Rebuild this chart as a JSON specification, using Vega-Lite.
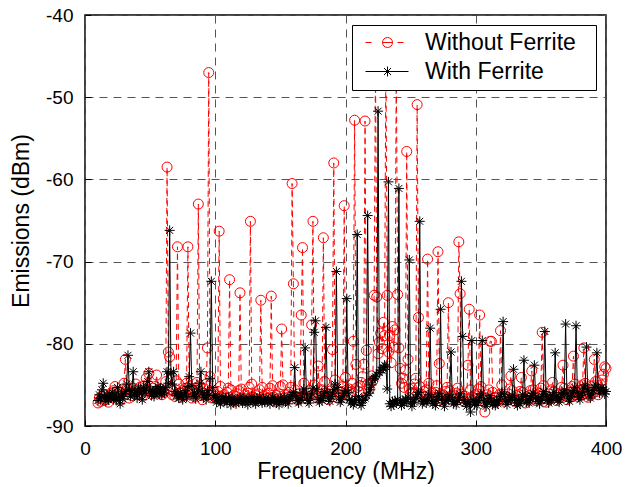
{
"$schema": "https://vega.github.io/schema/vega-lite/v6.json",
"width": 521, "height": 411,
"autosize": "none",
"padding": {"left": 85, "top": 15, "right": 20, "bottom": 61},
"background": "white",
"config": {
  "font": "Liberation Sans",
  "view": {"stroke": "black", "strokeWidth": 1.5},
  "axis": {"grid": true, "gridColor": "#555555", "gridDash": [8, 6], "gridWidth": 1, "gridOpacity": 1,
    "domain": false, "ticks": true, "tickColor": "black", "tickSize": -6, "tickWidth": 1,
    "labelFont": "Liberation Sans", "labelFontSize": 19, "labelColor": "black",
    "titleFont": "Liberation Sans", "titleFontSize": 23, "titleFontWeight": "normal", "titleColor": "black"}
},
"data": {"values": [
{"f":10,"a":-87.2,"b":-86.9},{"f":11,"a":-86.6,"b":-86.2},{"f":12,"a":-87.0,"b":-86.7},{"f":13,"a":-86.4,"b":-85.6},{"f":14,"a":-86.9,"b":-84.8},{"f":15,"a":-86.2,"b":-86.4},{"f":16,"a":-86.8,"b":-87.0},{"f":17,"a":-86.5,"b":-86.3},{"f":18,"a":-87.1,"b":-86.8},{"f":19,"a":-86.3,"b":-86.1},
{"f":20,"a":-86.0,"b":-86.6},{"f":21,"a":-86.5,"b":-85.9},{"f":22,"a":-85.7,"b":-86.8},{"f":23,"a":-85.2,"b":-86.2},{"f":24,"a":-86.2,"b":-86.9},{"f":25,"a":-85.8,"b":-85.3},{"f":26,"a":-86.4,"b":-86.5},{"f":27,"a":-86.9,"b":-87.3},{"f":28,"a":-86.1,"b":-86.0},{"f":29,"a":-85.6,"b":-86.7},
{"f":30,"a":-84.8,"b":-86.1},{"f":31,"a":-81.9,"b":-85.8},{"f":32,"a":-85.5,"b":-84.9},{"f":33,"a":-86.2,"b":-81.4},{"f":34,"a":-86.6,"b":-85.6},{"f":35,"a":-85.9,"b":-86.4},{"f":36,"a":-86.3,"b":-85.7},{"f":37,"a":-85.4,"b":-83.4},{"f":38,"a":-86.0,"b":-86.2},{"f":39,"a":-84.9,"b":-85.9},
{"f":40,"a":-85.6,"b":-86.6},{"f":41,"a":-86.2,"b":-85.4},{"f":42,"a":-85.3,"b":-86.1},{"f":43,"a":-85.9,"b":-85.6},{"f":44,"a":-86.4,"b":-86.8},{"f":45,"a":-85.1,"b":-85.3},{"f":46,"a":-85.7,"b":-86.0},{"f":47,"a":-84.2,"b":-85.5},{"f":48,"a":-85.6,"b":-84.6},{"f":49,"a":-83.6,"b":-83.4},
{"f":50,"a":-85.8,"b":-85.7},{"f":51,"a":-86.1,"b":-86.3},{"f":52,"a":-85.4,"b":-85.8},{"f":53,"a":-85.9,"b":-86.4},{"f":54,"a":-85.2,"b":-85.5},{"f":55,"a":-83.8,"b":-85.9},{"f":56,"a":-85.6,"b":-85.2},{"f":57,"a":-86.0,"b":-86.1},{"f":58,"a":-85.5,"b":-85.4},{"f":59,"a":-86.2,"b":-86.2},
{"f":60,"a":-85.8,"b":-85.6},{"f":61,"a":-85.9,"b":-86.0},{"f":62,"a":-84.6,"b":-85.3},{"f":63,"a":-58.5,"b":-83.4},{"f":64,"a":-81.0,"b":-84.8},{"f":65,"a":-81.6,"b":-66.2},{"f":66,"a":-85.6,"b":-83.6},{"f":67,"a":-86.2,"b":-84.9},{"f":68,"a":-85.8,"b":-83.4},{"f":69,"a":-86.4,"b":-85.8},
{"f":70,"a":-84.5,"b":-86.3},{"f":71,"a":-68.2,"b":-86.1},{"f":72,"a":-84.9,"b":-86.6},{"f":73,"a":-86.0,"b":-85.9},{"f":74,"a":-86.5,"b":-86.4},{"f":75,"a":-85.7,"b":-86.8},{"f":76,"a":-86.3,"b":-86.2},{"f":77,"a":-85.4,"b":-85.7},{"f":78,"a":-84.8,"b":-86.5},{"f":79,"a":-68.2,"b":-85.2},
{"f":80,"a":-85.2,"b":-84.0},{"f":81,"a":-86.1,"b":-78.7},{"f":82,"a":-86.6,"b":-85.1},{"f":83,"a":-85.8,"b":-86.4},{"f":84,"a":-86.4,"b":-86.0},{"f":85,"a":-86.0,"b":-86.7},{"f":86,"a":-84.7,"b":-86.1},{"f":87,"a":-63.0,"b":-85.5},{"f":88,"a":-85.1,"b":-84.8},{"f":89,"a":-86.3,"b":-83.4},
{"f":90,"a":-86.8,"b":-85.9},{"f":91,"a":-86.0,"b":-86.5},{"f":92,"a":-85.5,"b":-86.2},{"f":93,"a":-84.9,"b":-86.8},{"f":94,"a":-80.5,"b":-85.7},{"f":95,"a":-47.0,"b":-86.3},{"f":96,"a":-84.0,"b":-84.2},{"f":97,"a":-86.2,"b":-72.4},{"f":98,"a":-86.6,"b":-85.3},{"f":99,"a":-85.9,"b":-86.6},
{"f":100,"a":-86.4,"b":-86.2},{"f":101,"a":-86.7,"b":-87.1},{"f":102,"a":-85.8,"b":-86.6},{"f":103,"a":-66.3,"b":-86.9},{"f":104,"a":-85.2,"b":-87.3},{"f":105,"a":-86.5,"b":-86.8},{"f":106,"a":-86.9,"b":-86.4},{"f":107,"a":-86.2,"b":-87.0},{"f":108,"a":-86.6,"b":-86.7},{"f":109,"a":-85.9,"b":-87.2},
{"f":110,"a":-85.4,"b":-86.5},{"f":111,"a":-72.2,"b":-86.9},{"f":112,"a":-85.6,"b":-87.4},{"f":113,"a":-86.8,"b":-86.6},{"f":114,"a":-86.3,"b":-87.0},{"f":115,"a":-87.0,"b":-86.8},{"f":116,"a":-86.4,"b":-87.3},{"f":117,"a":-86.1,"b":-86.7},{"f":118,"a":-85.7,"b":-87.1},{"f":119,"a":-73.8,"b":-86.5},
{"f":120,"a":-85.5,"b":-86.9},{"f":121,"a":-86.6,"b":-87.2},{"f":122,"a":-86.9,"b":-86.6},{"f":123,"a":-86.2,"b":-87.0},{"f":124,"a":-86.7,"b":-86.8},{"f":125,"a":-86.0,"b":-87.4},{"f":126,"a":-85.3,"b":-86.7},{"f":127,"a":-65.1,"b":-86.9},{"f":128,"a":-84.9,"b":-86.4},{"f":129,"a":-86.5,"b":-87.1},
{"f":130,"a":-86.9,"b":-86.8},{"f":131,"a":-86.3,"b":-87.3},{"f":132,"a":-86.7,"b":-86.6},{"f":133,"a":-86.1,"b":-87.0},{"f":134,"a":-85.6,"b":-86.5},{"f":135,"a":-74.7,"b":-86.9},{"f":136,"a":-85.3,"b":-87.2},{"f":137,"a":-86.4,"b":-86.7},{"f":138,"a":-86.8,"b":-87.1},{"f":139,"a":-86.2,"b":-86.6},
{"f":140,"a":-86.6,"b":-87.0},{"f":141,"a":-86.0,"b":-86.8},{"f":142,"a":-85.4,"b":-87.3},{"f":143,"a":-74.2,"b":-86.9},{"f":144,"a":-85.1,"b":-86.5},{"f":145,"a":-86.5,"b":-87.0},{"f":146,"a":-87.0,"b":-86.7},{"f":147,"a":-86.3,"b":-87.2},{"f":148,"a":-86.7,"b":-86.8},{"f":149,"a":-86.1,"b":-87.4},
{"f":150,"a":-85.2,"b":-86.6},{"f":151,"a":-78.2,"b":-86.9},{"f":152,"a":-85.0,"b":-87.1},{"f":153,"a":-86.6,"b":-86.5},{"f":154,"a":-86.9,"b":-87.0},{"f":155,"a":-86.2,"b":-86.8},{"f":156,"a":-86.5,"b":-87.3},{"f":157,"a":-85.9,"b":-86.7},{"f":158,"a":-85.3,"b":-86.4},{"f":159,"a":-60.5,"b":-86.2},
{"f":160,"a":-72.7,"b":-85.9},{"f":161,"a":-85.6,"b":-82.9},{"f":162,"a":-86.4,"b":-86.3},{"f":163,"a":-86.8,"b":-86.9},{"f":164,"a":-86.1,"b":-87.2},{"f":165,"a":-86.5,"b":-86.6},{"f":166,"a":-76.5,"b":-86.8},{"f":167,"a":-68.3,"b":-86.0},{"f":168,"a":-84.8,"b":-85.5},{"f":169,"a":-86.3,"b":-80.5},
{"f":170,"a":-86.7,"b":-86.1},{"f":171,"a":-86.0,"b":-86.9},{"f":172,"a":-86.4,"b":-87.2},{"f":173,"a":-85.7,"b":-86.6},{"f":174,"a":-77.7,"b":-86.1},{"f":175,"a":-65.1,"b":-85.4},{"f":176,"a":-85.0,"b":-78.6},{"f":177,"a":-86.2,"b":-77.2},{"f":178,"a":-86.6,"b":-85.6},{"f":179,"a":-82.7,"b":-86.8},
{"f":180,"a":-86.1,"b":-87.1},{"f":181,"a":-86.5,"b":-86.5},{"f":182,"a":-85.6,"b":-86.9},{"f":183,"a":-67.1,"b":-86.3},{"f":184,"a":-84.6,"b":-85.8},{"f":185,"a":-86.0,"b":-78.0},{"f":186,"a":-86.4,"b":-85.9},{"f":187,"a":-86.8,"b":-86.7},{"f":188,"a":-86.1,"b":-87.0},{"f":189,"a":-85.7,"b":-86.4},
{"f":190,"a":-80.7,"b":-86.0},{"f":191,"a":-58.0,"b":-85.6},{"f":192,"a":-84.4,"b":-84.9},{"f":193,"a":-86.2,"b":-71.2},{"f":194,"a":-86.6,"b":-85.3},{"f":195,"a":-85.9,"b":-86.6},{"f":196,"a":-86.3,"b":-87.1},{"f":197,"a":-85.8,"b":-86.8},{"f":198,"a":-85.2,"b":-86.3},{"f":199,"a":-63.2,"b":-86.0},
{"f":200,"a":-84.1,"b":-85.7},{"f":201,"a":-85.6,"b":-74.5},{"f":202,"a":-86.2,"b":-85.9},{"f":203,"a":-85.5,"b":-86.8},{"f":204,"a":-85.9,"b":-87.2},{"f":205,"a":-84.8,"b":-86.9},{"f":206,"a":-79.7,"b":-87.4},{"f":207,"a":-52.8,"b":-87.1},{"f":208,"a":-82.5,"b":-86.7},{"f":209,"a":-85.3,"b":-66.7},
{"f":210,"a":-85.8,"b":-86.4},{"f":211,"a":-85.1,"b":-87.2},{"f":212,"a":-84.7,"b":-87.5},{"f":213,"a":-84.0,"b":-86.9},{"f":214,"a":-82.5,"b":-86.8},{"f":215,"a":-52.9,"b":-86.6},{"f":216,"a":-80.8,"b":-86.3},{"f":217,"a":-84.9,"b":-64.4},{"f":218,"a":-85.6,"b":-86.0},{"f":219,"a":-84.8,"b":-85.6},
{"f":220,"a":-83.9,"b":-85.0},{"f":221,"a":-84.5,"b":-84.4},{"f":222,"a":-74.1,"b":-84.2},{"f":223,"a":-46.0,"b":-84.0},{"f":224,"a":-74.3,"b":-83.8},{"f":225,"a":-81.2,"b":-51.7},{"f":226,"a":-79.8,"b":-83.5},{"f":227,"a":-78.7,"b":-83.2},{"f":228,"a":-80.6,"b":-83.2},{"f":229,"a":-77.4,"b":-82.9},
{"f":230,"a":-79.0,"b":-82.6},{"f":231,"a":-44.5,"b":-82.8},{"f":232,"a":-74.1,"b":-85.5},{"f":233,"a":-81.0,"b":-60.3},{"f":234,"a":-79.0,"b":-87.3},{"f":235,"a":-82.3,"b":-87.6},{"f":236,"a":-77.9,"b":-87.0},{"f":237,"a":-80.4,"b":-87.4},{"f":238,"a":-78.3,"b":-86.9},{"f":239,"a":-45.5,"b":-87.2},
{"f":240,"a":-74.0,"b":-86.8},{"f":241,"a":-80.5,"b":-61.1},{"f":242,"a":-83.0,"b":-87.1},{"f":243,"a":-84.8,"b":-87.5},{"f":244,"a":-84.2,"b":-86.9},{"f":245,"a":-85.3,"b":-87.3},{"f":246,"a":-83.2,"b":-86.7},{"f":247,"a":-56.6,"b":-87.0},{"f":248,"a":-81.9,"b":-86.5},{"f":249,"a":-85.5,"b":-69.8},
{"f":250,"a":-86.0,"b":-87.2},{"f":251,"a":-85.4,"b":-87.6},{"f":252,"a":-85.9,"b":-86.8},{"f":253,"a":-84.9,"b":-87.1},{"f":254,"a":-84.2,"b":-86.6},{"f":255,"a":-50.9,"b":-86.2},{"f":256,"a":-76.8,"b":-85.9},{"f":257,"a":-85.2,"b":-65.1},{"f":258,"a":-86.1,"b":-86.7},{"f":259,"a":-86.5,"b":-87.3},
{"f":260,"a":-85.8,"b":-87.0},{"f":261,"a":-86.4,"b":-86.8},{"f":262,"a":-85.6,"b":-87.2},{"f":263,"a":-69.7,"b":-86.9},{"f":264,"a":-84.8,"b":-86.2},{"f":265,"a":-86.2,"b":-78.1},{"f":266,"a":-86.7,"b":-86.5},{"f":267,"a":-86.0,"b":-87.3},{"f":268,"a":-86.5,"b":-87.0},{"f":269,"a":-85.9,"b":-87.5},
{"f":270,"a":-85.1,"b":-86.8},{"f":271,"a":-68.8,"b":-86.4},{"f":272,"a":-82.4,"b":-86.0},{"f":273,"a":-86.3,"b":-75.8},{"f":274,"a":-86.8,"b":-86.6},{"f":275,"a":-86.2,"b":-87.2},{"f":276,"a":-86.6,"b":-87.6},{"f":277,"a":-85.8,"b":-86.9},{"f":278,"a":-85.3,"b":-86.5},{"f":279,"a":-75.0,"b":-86.8},
{"f":280,"a":-85.7,"b":-86.2},{"f":281,"a":-86.4,"b":-81.0},{"f":282,"a":-86.9,"b":-86.7},{"f":283,"a":-86.3,"b":-87.3},{"f":284,"a":-86.7,"b":-87.0},{"f":285,"a":-86.0,"b":-87.4},{"f":286,"a":-85.4,"b":-86.9},{"f":287,"a":-67.6,"b":-86.5},{"f":288,"a":-73.9,"b":-86.1},{"f":289,"a":-86.1,"b":-72.4},
{"f":290,"a":-86.6,"b":-79.1},{"f":291,"a":-87.0,"b":-86.8},{"f":292,"a":-86.4,"b":-87.2},{"f":293,"a":-86.8,"b":-87.6},{"f":294,"a":-82.6,"b":-87.0},{"f":295,"a":-75.8,"b":-87.3},{"f":296,"a":-85.6,"b":-88.3},{"f":297,"a":-86.5,"b":-79.6},{"f":298,"a":-86.9,"b":-86.8},{"f":299,"a":-86.3,"b":-87.4},
{"f":300,"a":-86.7,"b":-87.1},{"f":301,"a":-86.1,"b":-87.5},{"f":302,"a":-85.5,"b":-86.9},{"f":303,"a":-76.5,"b":-86.5},{"f":304,"a":-85.2,"b":-86.1},{"f":305,"a":-86.4,"b":-79.6},{"f":306,"a":-86.9,"b":-86.6},{"f":307,"a":-88.3,"b":-87.2},{"f":308,"a":-86.7,"b":-87.6},{"f":309,"a":-86.2,"b":-87.0},
{"f":310,"a":-85.6,"b":-86.7},{"f":311,"a":-79.7,"b":-86.3},{"f":312,"a":-79.7,"b":-87.0},{"f":313,"a":-85.9,"b":-87.4},{"f":314,"a":-86.6,"b":-87.1},{"f":315,"a":-87.1,"b":-87.5},{"f":316,"a":-86.5,"b":-86.9},{"f":317,"a":-86.9,"b":-87.3},{"f":318,"a":-86.2,"b":-86.8},{"f":319,"a":-78.4,"b":-86.4},
{"f":320,"a":-85.0,"b":-86.0},{"f":321,"a":-86.5,"b":-77.3},{"f":322,"a":-87.0,"b":-86.2},{"f":323,"a":-86.4,"b":-87.0},{"f":324,"a":-86.8,"b":-87.4},{"f":325,"a":-86.1,"b":-86.9},{"f":326,"a":-85.5,"b":-86.5},{"f":327,"a":-83.9,"b":-86.8},{"f":328,"a":-85.7,"b":-86.3},{"f":329,"a":-86.6,"b":-83.1},
{"f":330,"a":-87.0,"b":-86.7},{"f":331,"a":-86.3,"b":-87.2},{"f":332,"a":-86.8,"b":-87.5},{"f":333,"a":-86.2,"b":-86.9},{"f":334,"a":-85.8,"b":-87.3},{"f":335,"a":-84.1,"b":-86.8},{"f":336,"a":-85.9,"b":-86.2},{"f":337,"a":-86.7,"b":-82.0},{"f":338,"a":-87.2,"b":-86.4},{"f":339,"a":-86.5,"b":-87.1},
{"f":340,"a":-86.9,"b":-86.8},{"f":341,"a":-86.3,"b":-87.2},{"f":342,"a":-85.7,"b":-86.6},{"f":343,"a":-83.3,"b":-86.3},{"f":344,"a":-85.6,"b":-86.0},{"f":345,"a":-86.4,"b":-82.6},{"f":346,"a":-86.9,"b":-86.5},{"f":347,"a":-86.2,"b":-87.0},{"f":348,"a":-86.7,"b":-86.7},{"f":349,"a":-86.0,"b":-87.3},
{"f":350,"a":-85.4,"b":-86.9},{"f":351,"a":-78.6,"b":-86.4},{"f":352,"a":-85.1,"b":-85.8},{"f":353,"a":-86.6,"b":-78.5},{"f":354,"a":-87.1,"b":-86.2},{"f":355,"a":-86.4,"b":-86.8},{"f":356,"a":-86.8,"b":-87.2},{"f":357,"a":-86.1,"b":-86.6},{"f":358,"a":-85.6,"b":-86.9},{"f":359,"a":-84.7,"b":-86.3},
{"f":360,"a":-85.8,"b":-85.9},{"f":361,"a":-86.5,"b":-81.1},{"f":362,"a":-86.9,"b":-86.4},{"f":363,"a":-86.2,"b":-86.8},{"f":364,"a":-86.6,"b":-87.1},{"f":365,"a":-86.0,"b":-86.5},{"f":366,"a":-85.3,"b":-86.2},{"f":367,"a":-82.6,"b":-86.0},{"f":368,"a":-85.4,"b":-85.6},{"f":369,"a":-86.3,"b":-77.6},
{"f":370,"a":-86.8,"b":-86.1},{"f":371,"a":-86.1,"b":-86.7},{"f":372,"a":-86.5,"b":-87.0},{"f":373,"a":-85.9,"b":-86.4},{"f":374,"a":-85.2,"b":-86.0},{"f":375,"a":-81.5,"b":-85.7},{"f":376,"a":-84.9,"b":-85.3},{"f":377,"a":-86.0,"b":-77.8},{"f":378,"a":-86.4,"b":-85.9},{"f":379,"a":-85.8,"b":-86.5},
{"f":380,"a":-86.2,"b":-86.8},{"f":381,"a":-85.6,"b":-86.3},{"f":382,"a":-85.0,"b":-85.8},{"f":383,"a":-80.5,"b":-85.4},{"f":384,"a":-84.8,"b":-85.0},{"f":385,"a":-86.1,"b":-80.4},{"f":386,"a":-86.5,"b":-85.6},{"f":387,"a":-85.9,"b":-86.2},{"f":388,"a":-86.3,"b":-86.6},{"f":389,"a":-85.7,"b":-86.1},
{"f":390,"a":-85.1,"b":-85.7},{"f":391,"a":-81.9,"b":-85.3},{"f":392,"a":-84.6,"b":-85.0},{"f":393,"a":-85.8,"b":-81.1},{"f":394,"a":-86.2,"b":-85.4},{"f":395,"a":-85.6,"b":-86.0},{"f":396,"a":-85.0,"b":-85.7},{"f":397,"a":-84.4,"b":-85.3},{"f":398,"a":-83.7,"b":-85.6},{"f":399,"a":-82.8,"b":-86.1},
{"f":400,"a":-83.0,"b":-85.8}
]},
"transform": [{"fold": ["a", "b"], "as": ["k", "v"]}],
"encoding": {
  "x": {"field": "f", "type": "quantitative", "scale": {"domain": [0, 400], "nice": false},
    "axis": {"values": [0, 100, 200, 300, 400], "title": "Frequency (MHz)", "labelPadding": 19, "titlePadding": 2, "labelFlush": false}},
  "y": {"field": "v", "type": "quantitative", "scale": {"domain": [-90, -40], "nice": false, "zero": false},
    "axis": {"values": [-90, -80, -70, -60, -50, -40], "title": "Emissions (dBm)", "labelPadding": 18, "titlePadding": 12, "labelExpr": "toString(datum.value)"}}
},
"layer": [
  {"transform": [{"filter": "datum.k === 'a'"}], "mark": {"type": "line", "strokeDash": [6, 4], "strokeWidth": 1, "color": "#ff0000"}},
  {"transform": [{"filter": "datum.k === 'a'"}], "mark": {"type": "point", "shape": "circle", "filled": false, "size": 100, "strokeWidth": 1, "opacity": 1, "color": "#ff0000"}},
  {"transform": [{"filter": "datum.k === 'b'"}], "mark": {"type": "line", "strokeWidth": 1, "color": "#000000"}},
  {"transform": [{"filter": "datum.k === 'b'"}], "mark": {"type": "point", "shape": "M-1,0H1M0,-1V1M-0.7,-0.7L0.7,0.7M-0.7,0.7L0.7,-0.7", "filled": false, "size": 100, "strokeWidth": 1, "opacity": 1, "color": "#000000"}},
  {"transform": [{"filter": "datum.f > 1000"}], "mark": {"type": "point", "filled": false, "size": 100, "strokeWidth": 1, "opacity": 1},
    "encoding": {
      "stroke": {"field": "k", "type": "nominal", "scale": {"domain": ["a", "b"], "range": ["#ff0000", "#000000"]},
        "legend": {"title": ".", "titleOrient": "right", "titlePadding": 13, "titleFontSize": 2, "titleColor": "white",
          "orient": "top-right", "offset": 10, "fillColor": "white", "strokeColor": "black",
          "padding": 6, "rowPadding": 5, "labelFontSize": 23, "labelFont": "Liberation Sans", "labelColor": "black", "labelLimit": 400,
          "labelOffset": 44, "symbolSize": 100, "symbolStrokeWidth": 1, "symbolOpacity": 1,
          "labelExpr": "datum.value === 'a' ? 'Without Ferrite' : 'With Ferrite'"}},
      "shape": {"field": "k", "type": "nominal",
        "scale": {"domain": ["a", "b"], "range": ["M-0.8,0H0.4M2.6,0H4.6M2.6,0A1,1 0 1,1 4.6,0A1,1 0 1,1 2.6,0M5.6,0H6.8", "M-0.8,0H7.8M3.6,-1V1M2.9,-0.7L4.3,0.7M2.9,0.7L4.3,-0.7"]},
        "legend": {"title": ".", "titleOrient": "right", "titlePadding": 13, "titleFontSize": 2, "titleColor": "white",
          "orient": "top-right", "offset": 10, "fillColor": "white", "strokeColor": "black",
          "padding": 6, "rowPadding": 5, "labelFontSize": 23, "labelFont": "Liberation Sans", "labelColor": "black", "labelLimit": 400,
          "labelOffset": 44, "symbolSize": 100, "symbolStrokeWidth": 1, "symbolOpacity": 1,
          "labelExpr": "datum.value === 'a' ? 'Without Ferrite' : 'With Ferrite'"}}
    }}
]
}
